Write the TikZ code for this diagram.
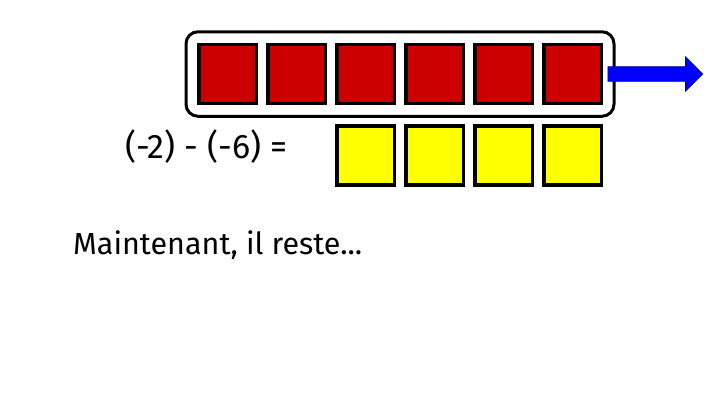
\documentclass[tikz,border=0pt]{standalone}
\usepackage{fontspec}
\setmainfont{Fira Sans}
\usetikzlibrary{positioning}
\usetikzlibrary{fit}
\usetikzlibrary{shapes.arrows}

\definecolor{tokenred}{RGB}{204,0,0}
\definecolor{tokenyellow}{RGB}{255,255,0}
\definecolor{arrowblue}{RGB}{0,0,255}

\tikzset{
    token/.style={draw, line width=3.5pt, minimum width=57.5pt, minimum height=59pt, inner sep=0pt},
    redtoken/.style={token, fill=tokenred},
    yellowtoken/.style={token, fill=tokenyellow},
    caption/.style={inner sep=0pt, anchor=base west, font=\fontsize{30.5}{36}\selectfont}
}

\begin{document}
\begin{tikzpicture}[x=1pt, y=-1pt]
    \useasboundingbox (0,0) rectangle (720,405);

    \node [redtoken] (r1) at (227.5,74) { };
    \node [redtoken, right=8pt of r1] (r2) { };
    \node [redtoken, right=8pt of r2] (r3) { };
    \node [redtoken, right=8pt of r3] (r4) { };
    \node [redtoken, right=8pt of r4] (r5) { };
    \node [redtoken, right=8pt of r5] (r6) { };

    \node [draw, line width=3pt, rounded corners=12pt, inner sep=11pt, fit=(r1) (r6)] (box) { };

    \node [yellowtoken, below=19pt of r3] (y1) { };
    \node [yellowtoken, right=8pt of y1] (y2) { };
    \node [yellowtoken, right=8pt of y2] (y3) { };
    \node [yellowtoken, right=8pt of y3] (y4) { };

    \node [single arrow, fill=arrowblue, draw=arrowblue!60!black, line width=0.6pt,
           inner xsep=0pt, inner ysep=7pt, minimum height=95pt,
           single arrow head extend=10pt, anchor=tail] (out) at ([xshift=-8pt]box.east) { };

    \node [caption, font=\fontsize{34}{40}\selectfont] (eq) at (125,158) {(-2) - (-6) =};
    \node [caption] (rest) at (73,254) {Maintenant, il reste...};
\end{tikzpicture}
\end{document}
